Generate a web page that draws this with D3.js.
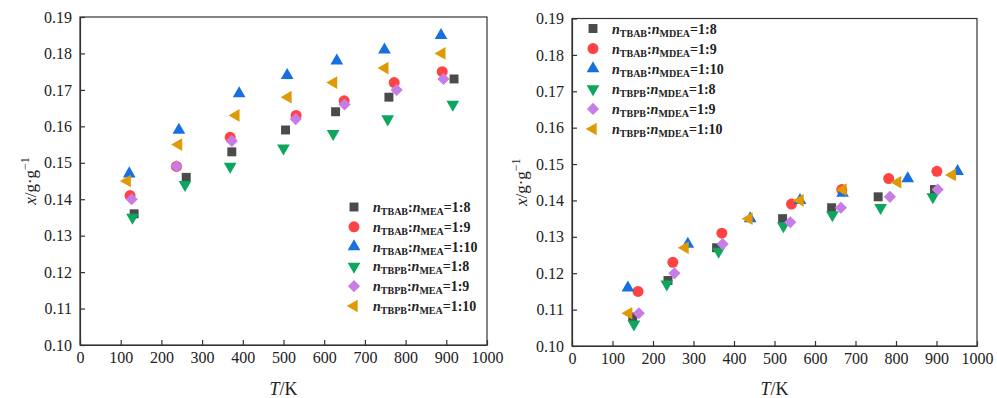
<!DOCTYPE html>
<html>
<head>
<meta charset="utf-8">
<script src="https://cdn.jsdelivr.net/npm/d3@7"></script>
<style>
body { margin:0; background:#fff; }
svg text { font-family: "Liberation Serif", "Times New Roman", serif; fill:#222; }
</style>
</head>
<body>
<div id="chart"></div>
<script>
// data (T in K, x in g/g)
var seriesNames = ["TBAB_8", "TBAB_9", "TBAB_10", "TBPB_8", "TBPB_9", "TBPB_10"]
var salts = ["TBAB", "TBAB", "TBAB", "TBPB", "TBPB", "TBPB"]
var ratios = ["1:8", "1:9", "1:10", "1:8", "1:9", "1:10"]
var colors = ["#4b4b4b", "#ff4242", "#1670e0", "#0ca65f", "#c77ce6", "#e09a05"]

// left panel: MEA
var meaT = [
  [133, 261, 373, 505, 628, 759, 919],
  [123, 237, 369, 531, 649, 772, 890],
  [121, 243, 391, 509, 631, 748, 887],
  [129, 258, 369, 500, 622, 756, 916],
  [127, 237, 373, 530, 650, 778, 893],
  [116, 242, 383, 511, 623, 749, 889]
]
var meaX = [
  [0.136, 0.146, 0.153, 0.159, 0.164, 0.168, 0.173],
  [0.141, 0.149, 0.157, 0.163, 0.167, 0.172, 0.175],
  [0.147, 0.159, 0.169, 0.174, 0.178, 0.181, 0.185],
  [0.135, 0.144, 0.149, 0.154, 0.158, 0.162, 0.166],
  [0.140, 0.149, 0.156, 0.162, 0.166, 0.170, 0.173],
  [0.145, 0.155, 0.163, 0.168, 0.172, 0.176, 0.180]
]

// right panel: MDEA
var mdeaT = [
  [150, 237, 357, 520, 641, 756, 895],
  [163, 249, 370, 542, 666, 782, 901],
  [138, 286, 440, 563, 668, 829, 952],
  [153, 234, 362, 522, 643, 762, 891],
  [165, 253, 372, 539, 664, 785, 903],
  [140, 279, 437, 563, 669, 804, 939]
]
var mdeaX = [
  [0.108, 0.118, 0.127, 0.135, 0.138, 0.141, 0.143],
  [0.115, 0.123, 0.131, 0.139, 0.143, 0.146, 0.148],
  [0.116, 0.128, 0.135, 0.140, 0.142, 0.146, 0.148],
  [0.106, 0.117, 0.126, 0.133, 0.136, 0.138, 0.141],
  [0.109, 0.120, 0.128, 0.134, 0.138, 0.141, 0.143],
  [0.109, 0.127, 0.135, 0.140, 0.143, 0.145, 0.147]
]

var xTicks = d3.range(0, 1001, 100)
var yTicks = d3.range(0.10, 0.1901, 0.01)

var W = 997, H = 398
var serif = "'Liberation Serif', 'Times New Roman', serif"
var svg = d3.select("#chart").append("svg")
  .attr("width", W).attr("height", H)

// marker shapes: square, circle, up, down, diamond, left
var shapes = [
  {type: d3.symbolSquare, size: 80, rot: 0},
  {type: d3.symbolCircle, size: 95, rot: 0},
  {type: d3.symbolTriangle, size: 70, rot: 0},
  {type: d3.symbolTriangle, size: 70, rot: 180},
  {type: d3.symbolSquare, size: 74, rot: 45},
  {type: d3.symbolTriangle, size: 70, rot: -90}
]

function drawPanel(g, box, Ts, Xs, amine, legendPos) {
  var x = d3.scaleLinear().domain([0, 1000]).range([box.left, box.right])
  var y = d3.scaleLinear().domain([0.10, 0.19]).range([box.bottom, box.top])

  // frame
  g.append("rect")
    .attr("x", box.left).attr("y", box.top)
    .attr("width", box.right - box.left).attr("height", box.bottom - box.top)
    .attr("fill", "none").attr("stroke", "#333").attr("stroke-width", 1.2)

  var xa = g.append("g")
    .attr("transform", "translate(0," + box.bottom + ")")
    .call(d3.axisBottom(x).tickValues(xTicks).tickSizeInner(-5).tickSizeOuter(0).tickPadding(7).tickFormat(d3.format("d")))
  var ya = g.append("g")
    .attr("transform", "translate(" + box.left + ",0)")
    .call(d3.axisLeft(y).tickValues(yTicks).tickSizeInner(-5).tickSizeOuter(0).tickPadding(8).tickFormat(d3.format(".2f")))
  ;[xa, ya].forEach(function(a) {
    a.attr("font-family", serif)
    a.selectAll("text").attr("font-family", serif).attr("font-size", "16px").attr("fill", "#222")
    a.selectAll("line").attr("stroke", "#333").attr("stroke-width", 1.2)
    a.select(".domain").attr("stroke", "#333").attr("stroke-width", 1.2)
  })

  // points
  seriesNames.forEach(function(name, i) {
    var pts = Ts[i].map(function(t, j) { return {t: t, v: Xs[i][j]} })
    var sym = d3.symbol().type(shapes[i].type).size(shapes[i].size)
    g.append("g").selectAll("path")
      .data(pts)
      .join("path")
      .attr("d", sym)
      .attr("fill", colors[i])
      .attr("transform", function(d) {
        return "translate(" + x(d.t) + "," + y(d.v) + ") rotate(" + shapes[i].rot + ")"
      })
  })

  // legend
  var lg = g.append("g").attr("transform", "translate(" + legendPos.x + "," + legendPos.y + ")")
  seriesNames.forEach(function(name, i) {
    var row = lg.append("g").attr("transform", "translate(0," + (i * legendPos.step) + ")")
    row.append("path")
      .attr("d", d3.symbol().type(shapes[i].type).size(shapes[i].size)())
      .attr("fill", colors[i])
      .attr("transform", "rotate(" + shapes[i].rot + ")")
    var t = row.append("text")
      .attr("x", 19).attr("y", 5)
      .attr("font-size", "14px").attr("font-weight", "bold")
    t.append("tspan").attr("font-style", "italic").text("n")
    t.append("tspan").attr("font-size", "10px").attr("dy", 3).text(salts[i])
    t.append("tspan").attr("dy", -3).text(":")
    t.append("tspan").attr("font-style", "italic").text("n")
    t.append("tspan").attr("font-size", "10px").attr("dy", 3).text(amine)
    t.append("tspan").attr("dy", -3).text("=" + ratios[i])
  })

  // axis titles
  var cx = (box.left + box.right) / 2
  var xt = g.append("text")
    .attr("x", cx).attr("y", 395)
    .attr("text-anchor", "middle").attr("font-size", "18px")
  xt.append("tspan").attr("font-style", "italic").text("T")
  xt.append("tspan").text("/K")

  var cy = (box.top + box.bottom) / 2
  var yt = g.append("text")
    .attr("transform", "translate(" + box.ylab + "," + cy + ") rotate(-90)")
    .attr("text-anchor", "middle").attr("font-size", "17px")
  yt.append("tspan").attr("font-style", "italic").text("x")
  yt.append("tspan").text("/g·g")
  yt.append("tspan").attr("font-size", "12px").attr("dy", -7).text("−1")
}

drawPanel(svg.append("g"), {left: 80, right: 487, top: 17, bottom: 345, ylab: 36},
  meaT, meaX, "MEA", {x: 354, y: 207, step: 19.8})
drawPanel(svg.append("g"), {left: 572, right: 977, top: 18.5, bottom: 346, ylab: 527},
  mdeaT, mdeaX, "MDEA", {x: 593, y: 28.5, step: 20.1})
</script>
</body>
</html>
